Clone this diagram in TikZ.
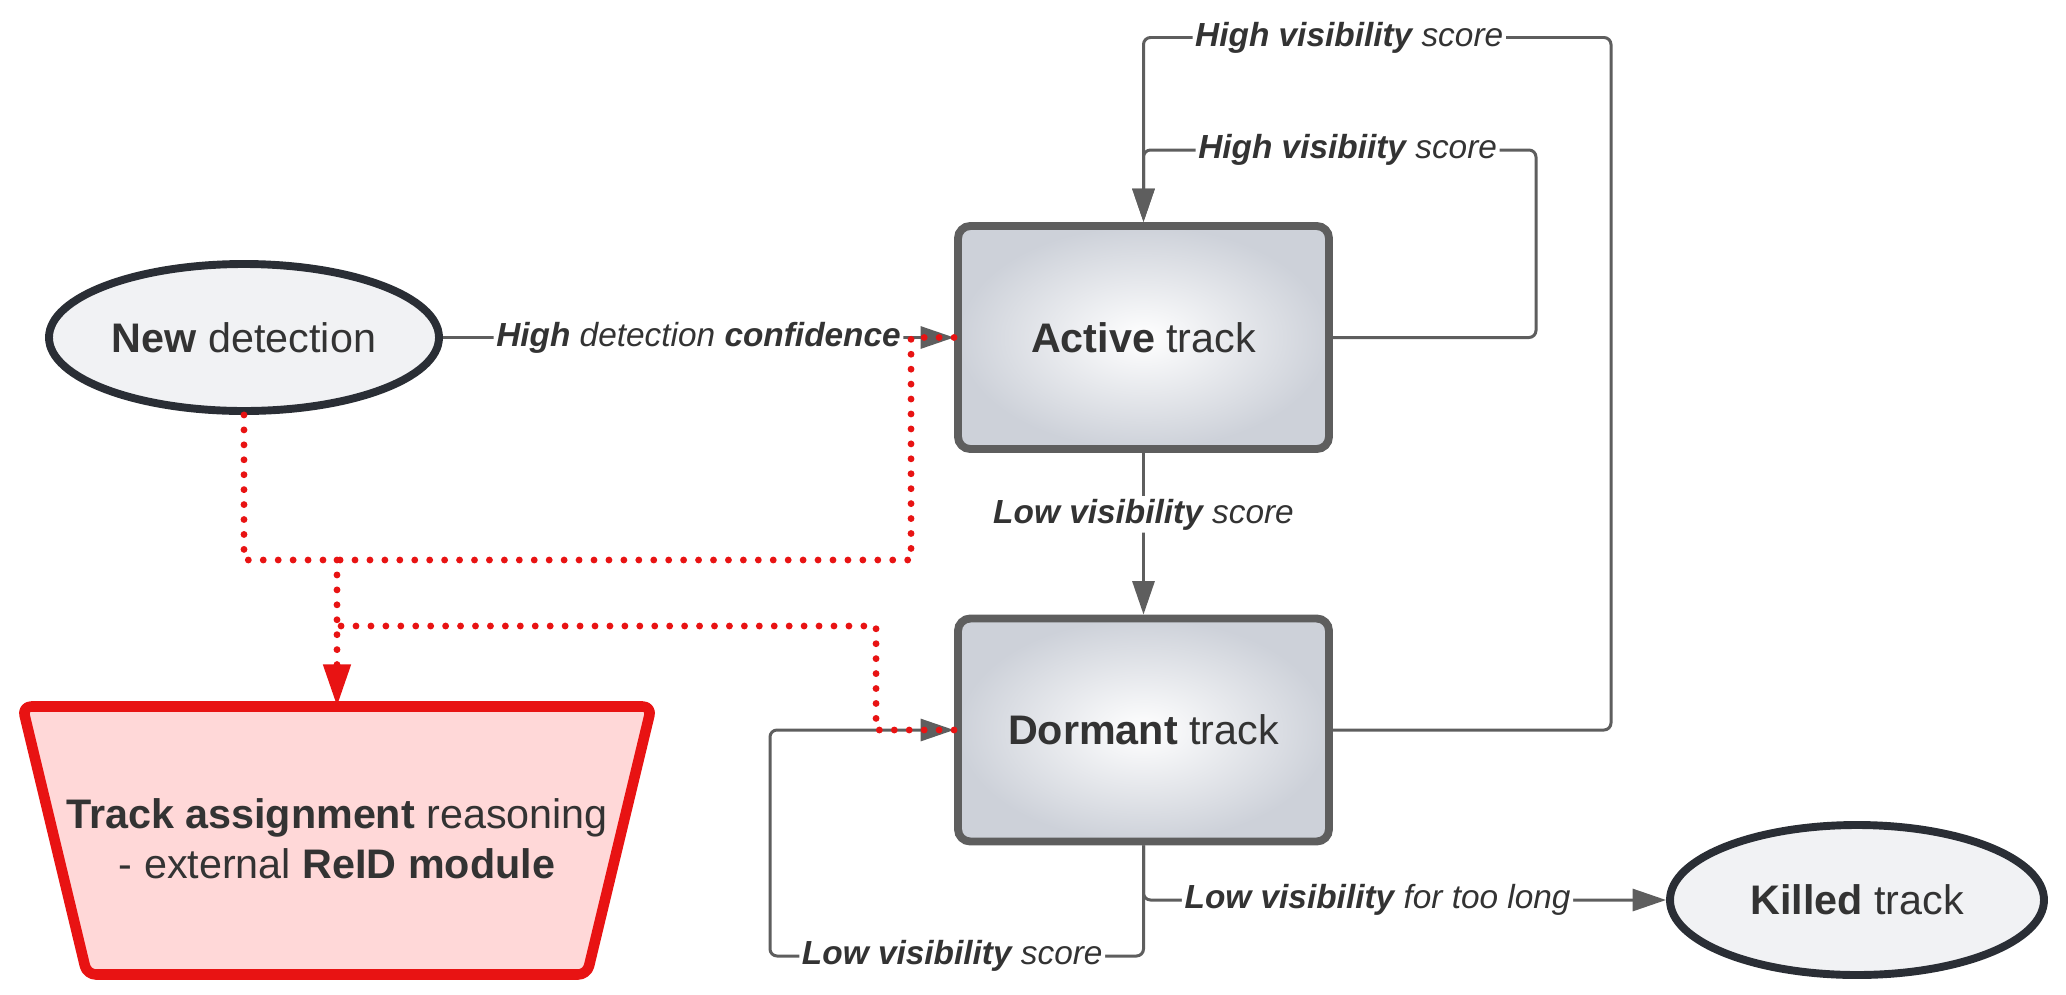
\documentclass[tikz,border=0pt]{standalone}
\usepackage{fontspec}
\setmainfont{Liberation Sans}
\usetikzlibrary{arrows.meta,shapes.geometric}
\definecolor{TrackGray}{HTML}{5E5E5E}
\definecolor{InkDark}{HTML}{2A2E35}
\definecolor{TextDark}{HTML}{333333}
\definecolor{MistGray}{HTML}{F1F2F4}
\definecolor{ShadeGray}{HTML}{CDD1D9}
\definecolor{ReidRed}{HTML}{E81313}
\definecolor{ReidPink}{HTML}{FFD8D8}

\begin{document}
\begin{tikzpicture}[
      track/.style={draw=TrackGray,line width=4.5pt,rounded corners=7pt,
                    inner color=white,outer color=ShadeGray,
                    minimum width=7.42cm,minimum height=4.46cm,
                    text=TextDark,font=\fontsize{23.5}{28.5}\selectfont},
      event/.style={ellipse,draw=InkDark,line width=4.5pt,fill=MistGray,
                    minimum width=7.48cm,minimum height=2.94cm,
                    text=TextDark,font=\fontsize{23.5}{28.5}\selectfont},
      reidbox/.style={draw=ReidRed,line width=6pt,fill=ReidPink,
                      rounded corners=5pt,line join=round},
      reidtext/.style={align=center,text=TextDark,
                       font=\fontsize{23.5}{28.5}\selectfont},
      flow/.style={draw=TrackGray,line width=1.7pt,rounded corners=4pt,
                   -{Triangle[length=19pt,width=12.5pt]}},
      cue/.style={fill=white,inner sep=1.5pt,text=TextDark,
                  font=\itshape\fontsize{19}{23}\selectfont},
      link/.style={draw=ReidRed,line width=3.9pt,line cap=round,
                   dash pattern=on 0pt off 8.5pt},
    ]
    \useasboundingbox (0,0) rectangle (41.32,-19.88);

    \node[event] (newdet) at (4.88,-6.75)  {\textbf{New} detection};
    \node[track] (act)    at (22.87,-6.75) {\textbf{Active} track};
    \node[track] (dor)    at (22.87,-14.6) {\textbf{Dormant} track};
    \node[event,minimum height=3.0cm] (kil) at (37.14,-18.0) {\textbf{Killed} track};

    \draw[reidbox] (0.45,-14.13) -- (13.03,-14.13) -- (11.74,-19.49) -- (1.74,-19.49) -- cycle;
    \node[reidtext] (assign) at (6.74,-16.78)
         {\textbf{Track assignment} reasoning\\- external \textbf{ReID module}};
    \coordinate (assigntop) at (6.74,-14.13);

    \coordinate (jn)  at (6.74,-11.2);
    \coordinate (jn2) at (6.74,-12.52);

    \draw[flow] (newdet) -- (act) node[cue,pos=0.5] {\textbf{High} detection \textbf{confidence}};
    \draw[flow] (act.east) -| (30.72,-3.0) -| (act.north) node[cue,pos=0.24] {\textbf{High visibiity} score};
    \draw[flow] (dor.east) -| (32.22,-0.75) -| (act.north) node[cue,pos=0.28] {\textbf{High visibility} score};
    \draw[flow] (act) -- (dor) node[cue,pos=0.38] {\textbf{Low visibility} score};
    \draw[flow] (dor.south) |- (15.4,-19.12) node[cue,pos=0.756] {\textbf{Low visibility} score} |- (dor.west);
    \draw[flow] (dor.south) |- (kil) node[cue,pos=0.724] {\textbf{Low visibility} for too long};

    \draw[link] (newdet.south) |- (jn);
    \draw[link] (act.west) -- ++(-0.86,0) |- (jn);
    \draw[link] (dor.west) -- ++(-1.56,0) |- (jn2);
    \draw[link,-{Triangle[length=24pt,width=15pt]}] (jn) -- (assigntop);
  \end{tikzpicture}
\end{document}
